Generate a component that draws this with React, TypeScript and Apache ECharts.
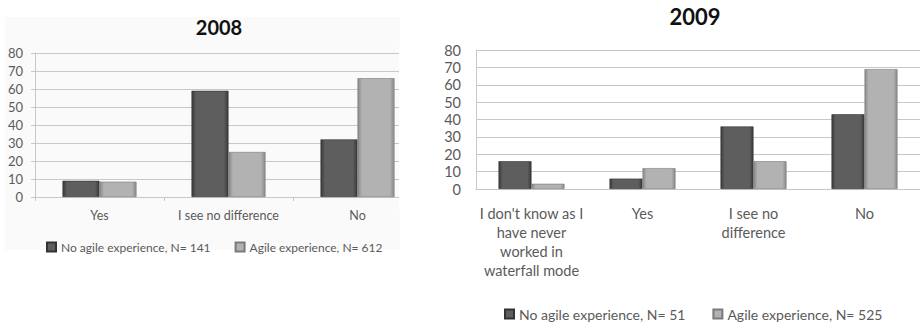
import React, { useEffect, useRef } from "react";
import * as echarts from "echarts";

// 2008 survey
const categories2008 = ["Yes", "I see no difference", "No"];
const noAgile2008 = [9, 59, 32];
const agile2008 = [8.5, 25, 66];
const noAgileName2008 = "No agile experience, N= 141";
const agileName2008 = "Agile experience, N= 612";

// 2009 survey
const categories2009 = [
  "I don't know as I\nhave never\nworked in\nwaterfall mode",
  "Yes",
  "I see no\ndifference",
  "No",
];
const noAgile2009 = [16, 6, 36, 43];
const agile2009 = [3, 12, 16, 69];
const noAgileName2009 = "No agile experience, N= 51";
const agileName2009 = "Agile experience, N= 525";

const yTicks = { min: 0, max: 80, interval: 10 };

const FONT = "Lato, 'Liberation Sans', sans-serif";
const TEXT = "#5a5a5a";
const GRID_LINE = "#c8c8c8";

const barGradient = (edge: string, mid: string) =>
  new echarts.graphic.LinearGradient(1, 0, 0, 0, [
    { offset: 0, color: edge },
    { offset: 0.12, color: mid },
    { offset: 0.88, color: mid },
    { offset: 1, color: edge },
  ]);

const darkFill = () => barGradient("#3a3a3a", "#5e5e5e");
const lightFill = () => barGradient("#8a8a8a", "#b2b2b2");

export default function App() {
  const ref = useRef<HTMLDivElement>(null);

  useEffect(() => {
    if (!ref.current) return;
    const chart = echarts.init(ref.current, undefined, { renderer: "svg" });

    const yAxisBase = (showTicks: boolean, fontSize: number) => ({
      type: "value" as const,
      ...yTicks,
      axisLine: { show: true, lineStyle: { color: GRID_LINE, width: 1 } },
      axisTick: { show: showTicks, length: 4, lineStyle: { color: GRID_LINE } },
      splitLine: { lineStyle: { color: GRID_LINE, width: 1 } },
      axisLabel: { color: TEXT, fontFamily: FONT, fontSize, margin: showTicks ? 12 : 15 },
    });

    chart.setOption({
      animation: false,
      backgroundColor: "#ffffff",
      title: [
        {
          text: "2008",
          left: 214,
          top: 12,
          textAlign: "center",
          textStyle: { fontFamily: FONT, fontWeight: "bold", fontSize: 20, color: "#111" },
        },
        {
          text: "2009",
          left: 690,
          top: 0,
          textAlign: "center",
          textStyle: { fontFamily: FONT, fontWeight: "bold", fontSize: 22, color: "#111" },
        },
      ],
      legend: [
        {
          data: [noAgileName2008, agileName2008],
          left: 46,
          top: 241,
          padding: 0,
          icon: "rect",
          itemWidth: 9,
          itemHeight: 9,
          itemGap: 24,
          textStyle: { fontFamily: FONT, fontSize: 12, color: TEXT },
        },
        {
          data: [noAgileName2009, agileName2009],
          left: 504,
          top: 307,
          padding: 0,
          icon: "rect",
          itemWidth: 9,
          itemHeight: 9,
          itemGap: 27,
          textStyle: { fontFamily: FONT, fontSize: 14, color: TEXT },
        },
      ],
      grid: [
        { left: 35, top: 53, width: 387, height: 144 },
        { left: 476, top: 50, width: 460, height: 139 },
      ],
      xAxis: [
        {
          type: "category",
          gridIndex: 0,
          data: categories2008,
          axisLine: { lineStyle: { color: GRID_LINE } },
          axisTick: { show: true, length: 4, lineStyle: { color: GRID_LINE } },
          axisLabel: { interval: 0, color: TEXT, fontFamily: FONT, fontSize: 12.5, margin: 12 },
        },
        {
          type: "category",
          gridIndex: 1,
          data: categories2009,
          axisLine: { lineStyle: { color: GRID_LINE } },
          axisTick: { show: false },
          axisLabel: {
            interval: 0,
            color: TEXT,
            fontFamily: FONT,
            fontSize: 14.5,
            margin: 15,
            lineHeight: 19,
          },
        },
      ],
      yAxis: [
        { ...yAxisBase(true, 13), gridIndex: 0 },
        { ...yAxisBase(false, 14.5), gridIndex: 1 },
      ],
      series: [
        {
          name: noAgileName2008,
          type: "bar",
          xAxisIndex: 0,
          yAxisIndex: 0,
          data: noAgile2008,
          barWidth: 37,
          barGap: "0%",
          itemStyle: { color: darkFill(), borderColor: "#333", borderWidth: 0.6 },
        },
        {
          name: agileName2008,
          type: "bar",
          xAxisIndex: 0,
          yAxisIndex: 0,
          data: agile2008,
          barWidth: 37,
          barGap: "0%",
          itemStyle: { color: lightFill(), borderColor: "#7a7a7a", borderWidth: 0.6 },
        },
        {
          name: noAgileName2009,
          type: "bar",
          xAxisIndex: 1,
          yAxisIndex: 1,
          data: noAgile2009,
          barWidth: 33,
          barGap: "0%",
          itemStyle: { color: darkFill(), borderColor: "#333", borderWidth: 0.6 },
        },
        {
          name: agileName2009,
          type: "bar",
          xAxisIndex: 1,
          yAxisIndex: 1,
          data: agile2009,
          barWidth: 33,
          barGap: "0%",
          itemStyle: { color: lightFill(), borderColor: "#7a7a7a", borderWidth: 0.6 },
        },
      ],
      graphic: [
        // faint panel behind the 2008 chart
        {
          type: "rect",
          z: -10,
          shape: { x: 5, y: 17, width: 395, height: 233 },
          style: { fill: "#fafafa" },
        },
        // the 2008 plot area is cut off on its right side
        {
          type: "rect",
          z: 100,
          shape: { x: 399, y: 45, width: 30, height: 165 },
          style: { fill: "#ffffff" },
        },
      ],
    });

    return () => chart.dispose();
  }, []);

  return (
    <div
      ref={ref}
      style={{ position: "absolute", left: 0, top: 0, width: 920, height: 323 }}
    />
  );
}
